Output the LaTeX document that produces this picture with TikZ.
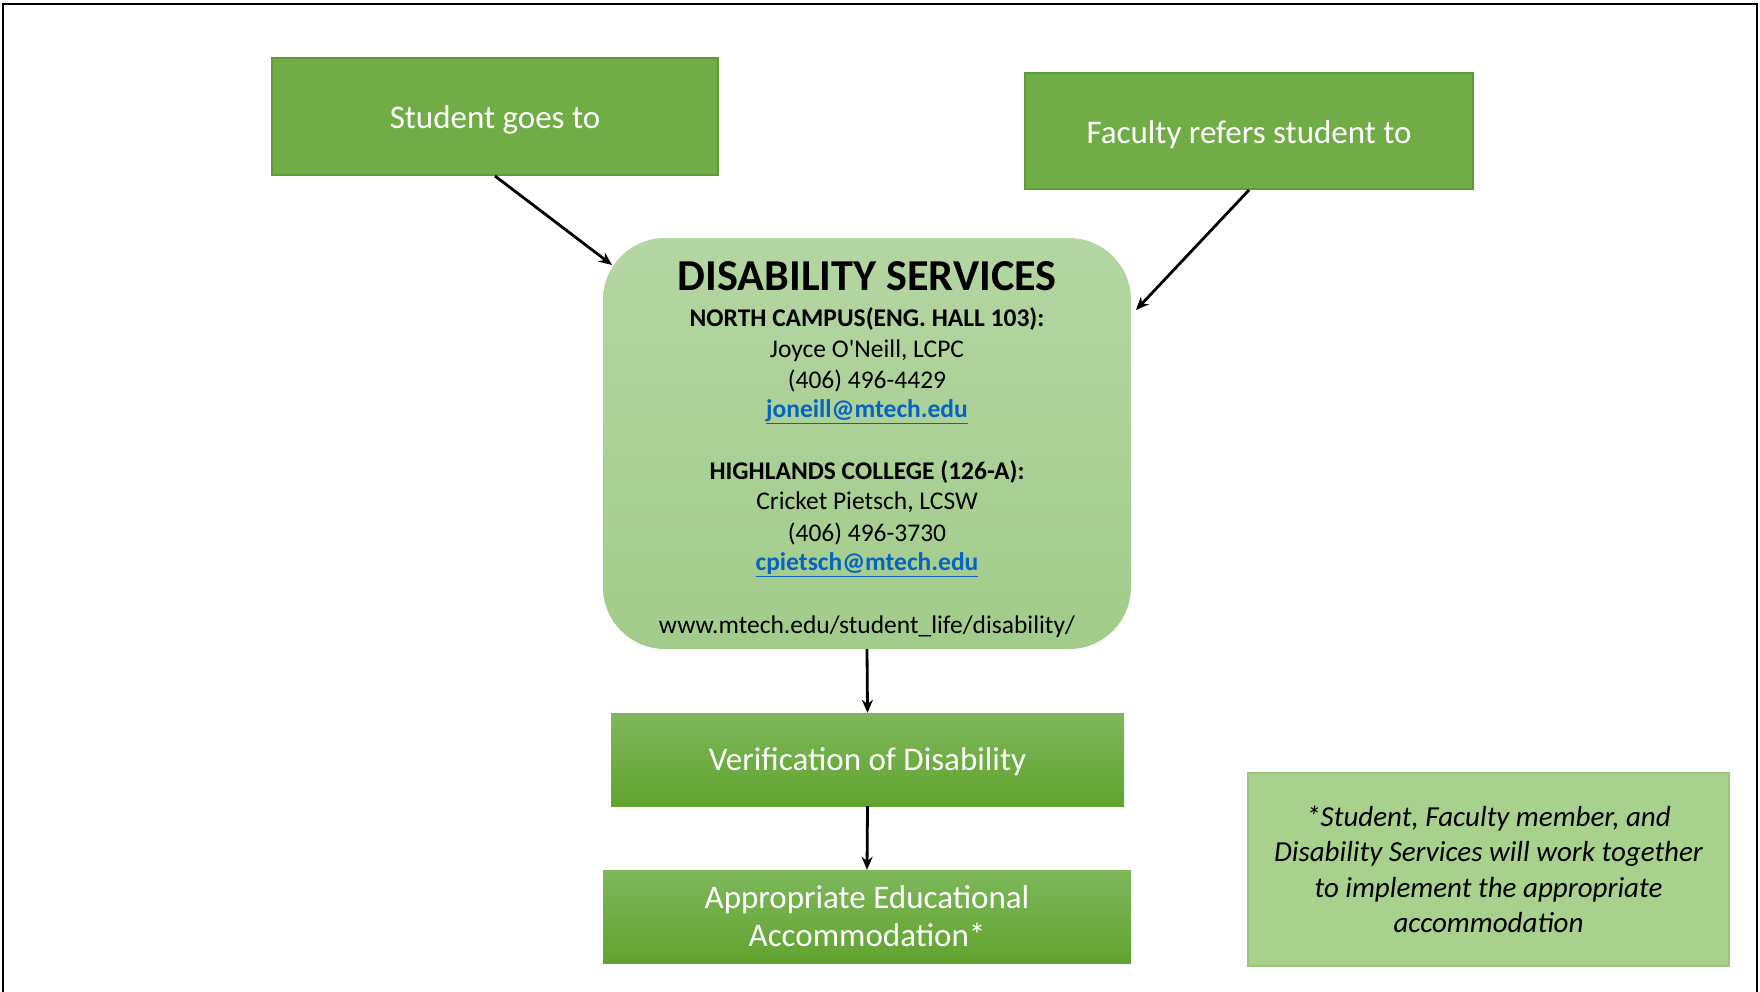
\documentclass[tikz,border=0pt]{standalone}
\usepackage{fontspec}
\setmainfont{Carlito}
\usetikzlibrary{arrows.meta}
\definecolor{gmid}{HTML}{70AD47}
\definecolor{gedge}{HTML}{5E9A38}
\definecolor{dstop}{HTML}{B4D6A2}
\definecolor{dsbot}{HTML}{A2CC8A}
\definecolor{sttop}{HTML}{7DB85B}
\definecolor{stbot}{HTML}{62A32F}
\definecolor{notefill}{HTML}{A9D18E}
\definecolor{noteedge}{HTML}{9CC47F}
\definecolor{linkblue}{HTML}{0563C1}
\tikzset{
  topbox/.style={draw=gedge, line width=2pt, fill=gmid, text=white, inner sep=0pt,
    font=\fontsize{33}{38}\selectfont, text height=24.6pt, text depth=0pt},
  dsbox/.style={rounded corners=62pt, top color=dstop, bottom color=dsbot, draw=none, inner sep=0pt},
  stepbox/.style={draw=none, top color=sttop, bottom color=stbot, text=white, inner sep=0pt,
    font=\fontsize{33}{38}\selectfont, align=center},
  notebox/.style={draw=noteedge, line width=1.5pt, fill=notefill, inner sep=0pt, align=center,
    font=\fontsize{29}{35.5}\selectfont\itshape},
  dstitle/.style={font=\fontsize{44.2}{50}\selectfont\bfseries, inner sep=0pt},
  dsline/.style={font=\fontsize{25.5}{28}\selectfont, inner sep=0pt},
  dsbold/.style={font=\fontsize{25.5}{28}\selectfont\bfseries, inner sep=0pt},
  dslink/.style={font=\fontsize{25.5}{28}\selectfont\bfseries, text=linkblue, inner sep=0pt},
  conn/.style={line width=2.8pt, -{Stealth[length=13pt,width=11pt]}}
}
\begin{document}
\begin{tikzpicture}[x=1pt,y=-1pt]
\useasboundingbox (0,0) rectangle (1760,991);
\fill[white] (0,0) rectangle (1760,991);
% outer frame
\draw[line width=2.5pt] (3,995) |- (1757,4) -- (1757,995);

\node[topbox, minimum width=446pt, minimum height=117pt] (student) at (495,116.5) {Student goes to};
\node[topbox, minimum width=448pt, minimum height=116pt] (faculty) at (1249,131) {Faculty refers student to};

\node[dsbox, minimum width=528pt, minimum height=411pt] (ds) at (867,443.5) {};
\node[dstitle] (dst) at (867,276) {DISABILITY SERVICES};
\node[dsbold] (ds1) at (867,318.5) {NORTH CAMPUS(ENG. HALL 103):};
\node[dsline] (ds2) at (867,350.5) {Joyce O\textquotesingle Neill, LCPC};
\node[dsline] (ds3) at (867,380.5) {(406) 496-4429};
\node[dslink] (ds4) at (867,411.5) {\underline{joneill@mtech.edu}};
\node[dsbold] (ds5) at (867,472) {HIGHLANDS COLLEGE (126-A):};
\node[dsline] (ds6) at (867,502.5) {Cricket Pietsch, LCSW};
\node[dsline] (ds7) at (867,533.5) {(406) 496-3730};
\node[dslink] (ds8) at (867,565) {\underline{cpietsch@mtech.edu}};
\node[dsline] (ds9) at (867,627) {www.mtech.edu/student\_life/disability/};

\node[stepbox, minimum width=513pt, minimum height=93pt, text height=21.8pt, text depth=0pt] (verif) at (867.5,759.5) {Verification of Disability};
\node[stepbox, minimum width=528pt, minimum height=93pt] (approp) at (867,916.5) {Appropriate Educational\\Accommodation*};

\node[notebox, minimum width=481pt, minimum height=193pt] (note) at (1488.5,869.5)
  {*Student, Faculty member, and\\Disability Services will work together\\to implement the appropriate\\accommodation};

\coordinate (stend) at (612,265);
\coordinate (faend) at (1136,310);
\draw[conn] (student.south) -- (stend);
\draw[conn] (faculty.south) -- (faend);
\draw[conn] (ds.south) -- (verif.north);
\draw[conn] (verif.south) -- (approp.north);
\end{tikzpicture}
\end{document}
